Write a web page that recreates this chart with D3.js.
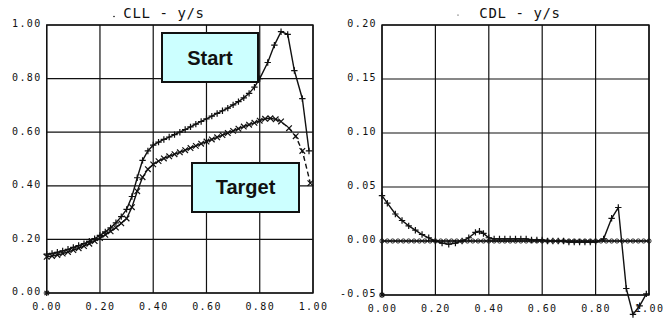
<!DOCTYPE html>
<html>
<head>
<meta charset="utf-8">
<script src="https://cdn.jsdelivr.net/npm/d3@7"></script>
<style>
  html, body { margin: 0; padding: 0; background: #fff; }
  svg { display: block; }
  .tick text { font-family: "DejaVu Sans Mono", monospace; font-size: 10px; letter-spacing: 1.4px; fill: #111; }
  .title { font-family: "DejaVu Sans Mono", monospace; font-size: 14px; letter-spacing: 0.6px; fill: #111; }
  .box text { font-family: "Liberation Sans", Arial, sans-serif; font-weight: bold; font-size: 20px; fill: #111; }
</style>
</head>
<body>
<svg id="chart" width="667" height="323"></svg>
<script>
// Spanwise lift distribution CLL along y/s
const cllStartX = [0.00, 0.02, 0.04, 0.06, 0.08, 0.10, 0.12, 0.14, 0.16, 0.18, 0.20, 0.22, 0.24, 0.26, 0.28, 0.30, 0.32, 0.34, 0.36, 0.38, 0.40, 0.42, 0.44, 0.46, 0.48, 0.50, 0.52, 0.54, 0.56, 0.58, 0.60, 0.62, 0.64, 0.66, 0.68, 0.70, 0.72, 0.74, 0.76, 0.78, 0.80, 0.83, 0.855, 0.88, 0.905, 0.93, 0.96, 0.985];
const cllStartY = [0.145, 0.148, 0.152, 0.157, 0.163, 0.170, 0.177, 0.184, 0.193, 0.203, 0.215, 0.228, 0.243, 0.262, 0.285, 0.312, 0.360, 0.430, 0.495, 0.530, 0.552, 0.563, 0.573, 0.582, 0.591, 0.600, 0.610, 0.620, 0.630, 0.640, 0.650, 0.660, 0.670, 0.680, 0.690, 0.702, 0.714, 0.728, 0.745, 0.768, 0.800, 0.860, 0.925, 0.975, 0.965, 0.830, 0.725, 0.530];

const cllTargetX = [0.00, 0.02, 0.04, 0.06, 0.08, 0.10, 0.12, 0.14, 0.16, 0.18, 0.20, 0.22, 0.24, 0.26, 0.28, 0.30, 0.32, 0.34, 0.36, 0.38, 0.40, 0.42, 0.44, 0.46, 0.48, 0.50, 0.52, 0.54, 0.56, 0.58, 0.60, 0.62, 0.64, 0.66, 0.68, 0.70, 0.72, 0.74, 0.76, 0.78, 0.80, 0.82, 0.84, 0.86, 0.88, 0.91, 0.935, 0.96, 0.99];
const cllTargetY = [0.135, 0.138, 0.142, 0.147, 0.153, 0.160, 0.167, 0.175, 0.184, 0.194, 0.205, 0.217, 0.230, 0.244, 0.260, 0.278, 0.320, 0.380, 0.432, 0.462, 0.480, 0.492, 0.502, 0.510, 0.518, 0.525, 0.533, 0.541, 0.549, 0.557, 0.565, 0.573, 0.581, 0.589, 0.597, 0.605, 0.613, 0.621, 0.628, 0.635, 0.643, 0.650, 0.652, 0.648, 0.640, 0.615, 0.585, 0.530, 0.410];

// Spanwise induced drag distribution CDL along y/s
const cdlStartX = [0.00, 0.02, 0.05, 0.075, 0.10, 0.125, 0.15, 0.175, 0.20, 0.225, 0.25, 0.275, 0.30, 0.325, 0.35, 0.365, 0.38, 0.40, 0.42, 0.44, 0.46, 0.48, 0.50, 0.52, 0.54, 0.56, 0.58, 0.60, 0.62, 0.64, 0.66, 0.68, 0.70, 0.72, 0.74, 0.76, 0.78, 0.80, 0.83, 0.86, 0.885, 0.915, 0.94, 0.965, 0.99];
const cdlStartY = [0.042, 0.035, 0.025, 0.019, 0.014, 0.010, 0.006, 0.003, 0.000, -0.002, -0.003, -0.002, 0.000, 0.003, 0.008, 0.009, 0.007, 0.003, 0.002, 0.002, 0.002, 0.002, 0.002, 0.002, 0.002, 0.001, 0.001, 0.001, 0.000, 0.000, 0.000, 0.000, -0.001, -0.001, -0.001, -0.001, -0.001, -0.001, 0.002, 0.021, 0.031, -0.044, -0.068, -0.060, -0.049];

const cdlTargetX = [0.00, 0.02, 0.04, 0.06, 0.08, 0.10, 0.12, 0.14, 0.16, 0.18, 0.20, 0.22, 0.24, 0.26, 0.28, 0.30, 0.32, 0.34, 0.36, 0.38, 0.40, 0.42, 0.44, 0.46, 0.48, 0.50, 0.52, 0.54, 0.56, 0.58, 0.60, 0.62, 0.64, 0.66, 0.68, 0.70, 0.72, 0.74, 0.76, 0.78, 0.80, 0.82, 0.84, 0.86, 0.88, 0.90, 0.92, 0.94, 0.96, 0.98, 1.00];
const cdlTargetY = [0, 0, 0, 0, 0, 0, 0, 0, 0, 0, 0, 0, 0, 0, 0, 0, 0, 0, 0, 0, 0, 0, 0, 0, 0, 0, 0, 0, 0, 0, 0, 0, 0, 0, 0, 0, 0, 0, 0, 0, 0, 0, 0, 0, 0, 0, 0, 0, 0, 0, 0];

const xTicks = [0.0, 0.2, 0.4, 0.6, 0.8, 1.0];
const xTickLabels = ["0.00", "0.20", "0.40", "0.60", "0.80", "1.00"];
const cllTicks = [0.0, 0.2, 0.4, 0.6, 0.8, 1.0];
const cllTickLabels = ["0.00", "0.20", "0.40", "0.60", "0.80", "1.00"];
const cdlTicks = [-0.05, 0.0, 0.05, 0.10, 0.15, 0.20];
const cdlTickLabels = ["-0.05", "0.00", "0.05", "0.10", "0.15", "0.20"];

const svg = d3.select("#chart");
const ink = "#111";

function zip(xs, ys) { return xs.map((x, i) => [x, ys[i]]); }

function panel(opt) {
  const { x, y, yTicks, yLabels, title, titleX } = opt;
  const g = svg.append("g");

  // grid
  g.append("g").selectAll("line.v").data(xTicks).join("line")
    .attr("x1", d => x(d)).attr("x2", d => x(d))
    .attr("y1", y.range()[0]).attr("y2", y.range()[1])
    .attr("stroke", ink).attr("stroke-width", 1.2);
  g.append("g").selectAll("line.h").data(yTicks).join("line")
    .attr("x1", x.range()[0]).attr("x2", x.range()[1])
    .attr("y1", d => y(d)).attr("y2", d => y(d))
    .attr("stroke", ink).attr("stroke-width", 1.2);
  g.append("rect")
    .attr("x", x.range()[0]).attr("y", y.range()[1])
    .attr("width", x.range()[1] - x.range()[0])
    .attr("height", y.range()[0] - y.range()[1])
    .attr("fill", "none").attr("stroke", ink).attr("stroke-width", 1.4);

  // axes (labels only)
  const ax = g.append("g")
    .attr("transform", `translate(0,${y.range()[0]})`)
    .call(d3.axisBottom(x).tickValues(xTicks).tickSize(0).tickPadding(10)
      .tickFormat((d, i) => xTickLabels[i]));
  ax.select(".domain").remove();

  const ay = g.append("g")
    .attr("transform", `translate(${x.range()[0]},0)`)
    .call(d3.axisLeft(y).tickValues(yTicks).tickSize(0).tickPadding(5)
      .tickFormat((d, i) => yLabels[i]));
  ay.select(".domain").remove();
  ay.selectAll("text").attr("dy", "0.18em");

  g.append("text").attr("class", "title")
    .attr("x", titleX).attr("y", 18).attr("text-anchor", "middle")
    .text(title);

  // corner asterisk
  const cx = x(0), cy = y(yTicks[0]);
  const star = g.append("g").attr("transform", `translate(${cx},${cy})`)
    .attr("stroke", ink).attr("stroke-width", 1.2);
  [[-3, 0, 3, 0], [0, -3, 0, 3], [-2.2, -2.2, 2.2, 2.2], [-2.2, 2.2, 2.2, -2.2]].forEach(s =>
    star.append("line").attr("x1", s[0]).attr("y1", s[1]).attr("x2", s[2]).attr("y2", s[3]));
  return g;
}

function drawLine(g, x, y, pts, dash) {
  g.append("path").datum(pts)
    .attr("d", d3.line().x(d => x(d[0])).y(d => y(d[1])))
    .attr("fill", "none").attr("stroke", ink).attr("stroke-width", 1.4)
    .attr("stroke-dasharray", dash || null);
}

function markers(g, x, y, pts, kind) {
  const m = g.append("g").attr("stroke", ink).attr("stroke-width", 1.2).attr("fill", "none");
  pts.forEach(p => {
    const px = x(p[0]), py = y(p[1]);
    if (kind === "plus") {
      m.append("path").attr("d", `M${px - 3.2},${py}H${px + 3.2}M${px},${py - 3.2}V${py + 3.2}`);
    } else if (kind === "cross") {
      m.append("path").attr("d", `M${px - 2.8},${py - 2.8}L${px + 2.8},${py + 2.8}M${px - 2.8},${py + 2.8}L${px + 2.8},${py - 2.8}`);
    } else {
      m.append("circle").attr("cx", px).attr("cy", py).attr("r", 2.1).attr("stroke-width", 0.9);
    }
  });
}

// Left panel: CLL
const xL = d3.scaleLinear().domain([0, 1]).range([46.7, 313]);
const yL = d3.scaleLinear().domain([0, 1]).range([293, 25]);
const gL = panel({ x: xL, y: yL, yTicks: cllTicks, yLabels: cllTickLabels, title: "CLL - y/s", titleX: 164 });
gL.append("circle").attr("cx", 114).attr("cy", 16.5).attr("r", 0.8).attr("fill", ink);

const tgtL = zip(cllTargetX, cllTargetY);
const split = cllTargetX.indexOf(0.86);
drawLine(gL, xL, yL, tgtL.slice(0, split + 1));
drawLine(gL, xL, yL, tgtL.slice(split), "5,3");
markers(gL, xL, yL, tgtL, "cross");
const stL = zip(cllStartX, cllStartY);
drawLine(gL, xL, yL, stL);
markers(gL, xL, yL, stL, "plus");

// Right panel: CDL
const xR = d3.scaleLinear().domain([0, 1]).range([382, 649]);
const yR = d3.scaleLinear().domain([-0.05, 0.2]).range([295, 25]);
const gR = panel({ x: xR, y: yR, yTicks: cdlTicks, yLabels: cdlTickLabels, title: "CDL - y/s", titleX: 520 });
gR.append("circle").attr("cx", 458).attr("cy", 15).attr("r", 0.6).attr("fill", ink);

const tgtR = zip(cdlTargetX, cdlTargetY);
drawLine(gR, xR, yR, tgtR);
markers(gR, xR, yR, tgtR, "circle");
const stR = zip(cdlStartX, cdlStartY);
drawLine(gR, xR, yR, stR);
markers(gR, xR, yR, stR, "plus");

// Annotation boxes
function box(x0, y0, w, h, label, baseline) {
  const b = svg.append("g").attr("class", "box");
  b.append("rect").attr("x", x0).attr("y", y0).attr("width", w).attr("height", h)
    .attr("fill", "#ccffff").attr("stroke", ink).attr("stroke-width", 2);
  b.append("text").attr("x", x0 + w / 2).attr("y", baseline).attr("text-anchor", "middle").text(label);
}
box(162, 33, 96, 49, "Start", 65);
box(192, 163, 107, 49, "Target", 194);
</script>
</body>
</html>
